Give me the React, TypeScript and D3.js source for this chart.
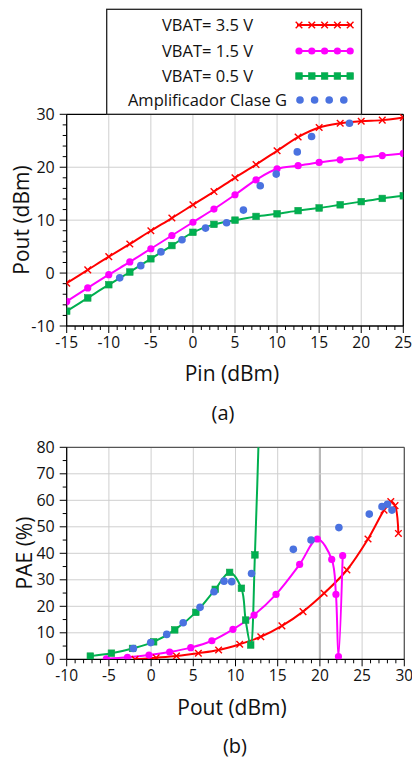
import React from 'react';
import * as d3 from 'd3';

// ---- chart (a): Pout vs Pin ----
const pinSteps = [-15, -12.5, -10, -7.5, -5, -2.5, 0, 2.5, 5, 7.5, 10, 12.5, 15, 17.5, 20, 22.5, 25];
const pout35 = [-1.9, 0.6, 3.1, 5.5, 8.0, 10.4, 12.9, 15.4, 18.0, 20.5, 23.1, 25.7, 27.5, 28.3, 28.7, 28.9, 29.4];
const pout15 = [-5.35, -2.8, -0.3, 2.1, 4.6, 7.1, 9.6, 12.1, 14.8, 17.6, 19.7, 20.3, 20.9, 21.4, 21.8, 22.2, 22.6];
const pout05 = [-7.2, -4.7, -2.2, 0.2, 2.7, 5.2, 7.7, 9.2, 10.0, 10.7, 11.2, 11.8, 12.3, 12.9, 13.5, 14.1, 14.6];
const classGPin = [-8.7, -6.2, -3.8, -1.3, 1.5, 4.0, 6.0, 8.0, 9.9, 12.4, 14.1, 18.6];
const classGPout = [-0.9, 1.4, 4.0, 6.3, 8.5, 9.5, 11.9, 16.5, 18.7, 22.9, 25.8, 28.3];

// ---- chart (b): PAE vs Pout ----
const pae35Pout = [-1.9, 0.6, 3.0, 5.6, 8.0, 10.5, 13.0, 15.5, 18.0, 20.5, 23.2, 25.7, 27.6, 28.4, 28.9, 29.3];
const pae35 = [0, 0.6, 1.25, 2.3, 3.5, 5.7, 8.5, 12.6, 18.0, 24.9, 33.7, 45.4, 56.3, 59.5, 58.0, 47.5];
const pae15Pout = [-5.3, -2.8, -0.25, 2.2, 4.7, 7.2, 9.7, 12.2, 14.8, 17.6, 19.7, 21.4, 21.9, 22.2, 22.7];
const pae15 = [0.2, 0.75, 1.6, 2.75, 4.4, 7.0, 11.3, 16.7, 24.5, 35.8, 45.4, 37.7, 24.5, 1.0, 39.1];
const pae05Pout = [-7.2, -4.7, -2.2, 0.3, 2.8, 5.3, 7.6, 9.3, 10.7, 11.2, 11.8, 12.3, 12.9];
const pae05 = [1.2, 2.3, 4.1, 6.6, 11.1, 17.7, 26.4, 32.8, 26.8, 14.8, 5.4, 39.4, 100];
const paeGPout = [-2.1, -0.05, 1.85, 3.8, 5.8, 7.45, 8.64, 9.55, 11.9, 16.85, 18.95, 22.25, 25.85, 27.36, 28.0, 28.54];
const paeG = [4.1, 6.3, 9.4, 13.8, 19.6, 25.5, 29.5, 29.3, 32.4, 41.5, 45.0, 49.7, 54.8, 57.6, 58.5, 56.3];

const legendLabels = ['VBAT= 3.5 V', 'VBAT= 1.5 V', 'VBAT= 0.5 V', 'Amplificador Clase G'];
const topXTicks = [-15, -10, -5, 0, 5, 10, 15, 20, 25];
const topYTicks = [-10, 0, 10, 20, 30];
const botXTicks = [-10, -5, 0, 5, 10, 15, 20, 25, 30];
const botYTicks = [0, 10, 20, 30, 40, 50, 60, 70, 80];

const RED = '#ff0000';
const MAG = '#ff00ff';
const GRN = '#00b050';
const BLUE = '#4a72e0';
const FONT = "'Open Sans', sans-serif";

type Pt = [number, number];
const zip = (xs: number[], ys: number[]): Pt[] => xs.map((x, i) => [x, ys[i]]);

const Cross = ({ x, y }: { x: number; y: number }) => (
  <g stroke={RED} strokeWidth={1.4}>
    <line x1={x - 3.3} y1={y - 3.3} x2={x + 3.3} y2={y + 3.3} />
    <line x1={x - 3.3} y1={y + 3.3} x2={x + 3.3} y2={y - 3.3} />
  </g>
);
const Dot = ({ x, y, c }: { x: number; y: number; c: string }) => <circle cx={x} cy={y} r={3.6} fill={c} />;
const Sq = ({ x, y }: { x: number; y: number }) => (
  <rect x={x - 3.3} y={y - 3.3} width={6.6} height={6.6} fill={GRN} stroke="#12a34d" strokeWidth={0.6} />
);

function marker(kind: string, x: number, y: number, key: any) {
  if (kind === 'x') return <Cross key={key} x={x} y={y} />;
  if (kind === 'o') return <Dot key={key} x={x} y={y} c={MAG} />;
  if (kind === 's') return <Sq key={key} x={x} y={y} />;
  return <circle key={key} cx={x} cy={y} r={3.8} fill={BLUE} />;
}

interface PanelProps {
  x: d3.ScaleLinear<number, number>;
  y: d3.ScaleLinear<number, number>;
  xTicks: number[];
  yTicks: number[];
  yMinor: number;
  frame: string;
  id: string;
  thickX?: number;
  series: { pts: Pt[]; color: string; kind: string }[];
  scatter: Pt[];
}

const Panel = ({ x, y, xTicks, yTicks, yMinor, frame, id, thickX, series, scatter }: PanelProps) => {
  const [x0, x1] = x.range();
  const [yb, yt] = y.range();
  const line = d3
    .line<Pt>()
    .x((d) => x(d[0]))
    .y((d) => y(d[1]))
    .curve(d3.curveCatmullRom.alpha(0.5));
  const xd = x.domain();
  const yd = y.domain();
  const xMinor = d3.range(xd[0], xd[1] + 0.001, 1);
  const yMin = d3.range(yd[0], yd[1] + 0.001, yMinor);
  return (
    <g>
      <defs>
        <clipPath id={id}>
          <rect x={x0} y={yt} width={x1 - x0} height={yb - yt} />
        </clipPath>
      </defs>
      {xTicks.slice(1, -1).map((t) => (
        <line key={'gx' + t} x1={x(t)} x2={x(t)} y1={yt} y2={yb}
          stroke={t === thickX ? '#b8b8b8' : '#cfcfcf'} strokeWidth={t === thickX ? 2.2 : 1} />
      ))}
      {yTicks.slice(1, -1).map((t) => (
        <line key={'gy' + t} x1={x0} x2={x1} y1={y(t)} y2={y(t)} stroke="#cfcfcf" strokeWidth={1} />
      ))}
      <line x1={x0} x2={x1} y1={yt} y2={yt} stroke={frame} strokeWidth={1.3} />
      <line x1={x1} x2={x1} y1={yt} y2={yb} stroke={frame} strokeWidth={1.3} />
      {/* axes */}
      <line x1={x0} x2={x1} y1={yb} y2={yb} stroke="#000" strokeWidth={1.3} />
      <line x1={x0} x2={x0} y1={yt} y2={yb} stroke="#000" strokeWidth={1.3} />
      {xMinor.map((t) => (
        <line key={'mx' + t} x1={x(t)} x2={x(t)} y1={yb} y2={yb + (xTicks.includes(t) ? 7 : 4)} stroke="#000" strokeWidth={1} />
      ))}
      {yMin.map((t) => (
        <line key={'my' + t} x1={x0 - (yTicks.includes(t) ? 7 : 4)} x2={x0} y1={y(t)} y2={y(t)} stroke="#000" strokeWidth={1} />
      ))}
      {xTicks.map((t) => (
        <text key={'lx' + t} x={x(t)} y={yb + 22} textAnchor="middle" fontSize={15.5} fontFamily={FONT} fill="#111">
          {t < 0 ? '-' + Math.abs(t) : t}
        </text>
      ))}
      {yTicks.map((t) => (
        <text key={'ly' + t} x={x0 - 12} y={y(t) + 5.6} textAnchor="end" fontSize={16} fontFamily={FONT} fill="#111">
          {t < 0 ? '-' + Math.abs(t) : t}
        </text>
      ))}
      <g clipPath={`url(#${id})`}>
        {series.map((s, i) => (
          <path key={'s' + i} d={line(s.pts) || ''} fill="none" stroke={s.color} strokeWidth={2} />
        ))}
        {series.map((s, i) => (
          <g key={'m' + i}>{s.pts.map((p, j) => marker(s.kind, x(p[0]), y(p[1]), j))}</g>
        ))}
        {scatter.map((p, j) => marker('b', x(p[0]), y(p[1]), 'b' + j))}
      </g>
    </g>
  );
};

export default function App() {
  const xa = d3.scaleLinear().domain([-15, 25]).range([66.7, 403.3]);
  const ya = d3.scaleLinear().domain([-10, 30]).range([326, 114.3]);
  const xb = d3.scaleLinear().domain([-10, 30]).range([66.7, 404.3]);
  const yb = d3.scaleLinear().domain([0, 80]).range([659.3, 447.3]);

  const legendY = [25, 51, 76, 100];
  const sampleX = d3.range(5).map((i) => 299 + i * 12.8);
  const dotX = d3.range(4).map((i) => 300 + i * 14.6);

  return (
    <div style={{ position: 'absolute', left: 0, top: 0 }}>
      <svg width={412} height={760} style={{ display: 'block', background: '#fff' }}>
        <Panel
          id="ca"
          x={xa}
          y={ya}
          xTicks={topXTicks}
          yTicks={topYTicks}
          yMinor={2}
          frame="#000"
          series={[
            { pts: zip(pinSteps, pout35), color: RED, kind: 'x' },
            { pts: zip(pinSteps, pout15), color: MAG, kind: 'o' },
            { pts: zip(pinSteps, pout05), color: GRN, kind: 's' },
          ]}
          scatter={zip(classGPin, classGPout)}
        />
        {/* legend */}
        <rect x={106.7} y={9.3} width={254.8} height={105} fill="#fff" stroke="#222" strokeWidth={1.3} />
        {legendLabels.map((l, i) => (
          <text key={l} x={207.5} y={legendY[i] + 5.8} textAnchor="middle" fontSize={16.5} fontFamily={FONT} fill="#111">
            {l}
          </text>
        ))}
        <line x1={297} x2={352} y1={legendY[0]} y2={legendY[0]} stroke={RED} strokeWidth={2} />
        {sampleX.map((sx, j) => marker('x', sx, legendY[0], 'lx' + j))}
        <line x1={297} x2={352} y1={legendY[1]} y2={legendY[1]} stroke={MAG} strokeWidth={2} />
        {sampleX.map((sx, j) => marker('o', sx, legendY[1], 'lo' + j))}
        <line x1={297} x2={352} y1={legendY[2]} y2={legendY[2]} stroke={GRN} strokeWidth={2} />
        {sampleX.map((sx, j) => marker('s', sx, legendY[2], 'ls' + j))}
        {dotX.map((sx, j) => marker('b', sx, legendY[3], 'lb' + j))}

        <text x={-220} y={29} transform="rotate(-90)" textAnchor="middle" fontSize={21} fontFamily={FONT} fill="#111">
          Pout (dBm)
        </text>
        <text x={232} y={381} textAnchor="middle" fontSize={21} fontFamily={FONT} fill="#111">
          Pin (dBm)
        </text>
        <text x={223} y={420} textAnchor="middle" fontSize={20} fontFamily={FONT} fill="#111">
          (a)
        </text>

        <Panel
          id="cb"
          x={xb}
          y={yb}
          xTicks={botXTicks}
          yTicks={botYTicks}
          yMinor={5}
          frame="#555"
          thickX={20}
          series={[
            { pts: zip(pae35Pout, pae35), color: RED, kind: 'x' },
            { pts: zip(pae15Pout, pae15), color: MAG, kind: 'o' },
            { pts: zip(pae05Pout, pae05), color: GRN, kind: 's' },
          ]}
          scatter={zip(paeGPout, paeG)}
        />
        <text x={-553} y={32} transform="rotate(-90)" textAnchor="middle" fontSize={21} fontFamily={FONT} fill="#111">
          PAE (%)
        </text>
        <text x={232} y={715} textAnchor="middle" fontSize={21} fontFamily={FONT} fill="#111">
          Pout (dBm)
        </text>
        <text x={235} y={753} textAnchor="middle" fontSize={20} fontFamily={FONT} fill="#111">
          (b)
        </text>
      </svg>
    </div>
  );
}
